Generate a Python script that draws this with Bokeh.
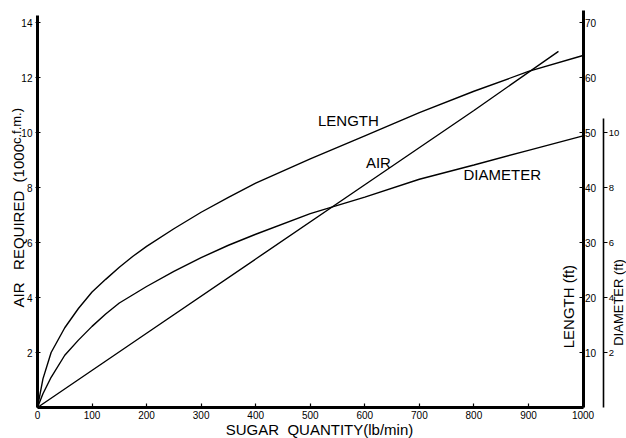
import math
from bokeh.plotting import figure
from bokeh.models import Range1d, LinearAxis, FixedTicker, Label
from bokeh.embed import file_html
from bokeh.resources import INLINE

# ---- data ----
sugar = [0, 10, 25, 50, 75, 100, 125, 150, 175, 200, 250, 300, 350, 400,
         500, 600, 700, 800, 900, 1000]
length_ft = [0, 5.2, 10, 14.5, 18, 21, 23.3, 25.5, 27.5, 29.3, 32.5, 35.5, 38.2, 40.8,
             45.2, 49.4, 53.6, 57.5, 61.1, 64]
diameter_ft = [0, 0.5, 1.1, 1.9, 2.45, 2.95, 3.4, 3.8, 4.1, 4.4, 4.95, 5.45, 5.9, 6.3,
               7.05, 7.65, 8.3, 8.82, 9.35, 9.88]
air_sugar = [0, 200, 400, 600, 800, 955]
air_kcfm = [0, 2.7, 5.4, 8.1, 10.8, 12.95]

x_ticks = [0, 100, 200, 300, 400, 500, 600, 700, 800, 900, 1000]
air_ticks = [2, 4, 6, 8, 10, 12, 14]
length_ticks = [10, 20, 30, 40, 50, 60, 70]
diam_ticks = [2, 4, 6, 8, 10]

X_START, X_END = -67.8, 1079.7
Y_START, Y_END = -1.127, 14.8
FONT = "Liberation Sans"
NB = "\u00a0"

p = figure(width=626, height=438,
           x_range=Range1d(X_START, X_END), y_range=Range1d(Y_START, Y_END),
           output_backend="svg", toolbar_location=None,
           x_axis_type=None, y_axis_type=None,
           min_border_left=0, min_border_right=0,
           min_border_top=0, min_border_bottom=0)
p.outline_line_color = None
p.background_fill_color = "white"
p.border_fill_color = "white"

p.extra_y_ranges = {"length": Range1d(Y_START * 5, Y_END * 5),
                    "diam": Range1d(Y_START, Y_END)}

def style_axis(ax, lw, tin, tout, fs, standoff):
    ax.axis_line_width = lw
    ax.axis_line_color = "black"
    ax.major_tick_in = tin
    ax.major_tick_out = tout
    ax.major_tick_line_width = 1.2
    ax.minor_tick_line_color = None
    ax.major_label_text_font = FONT
    ax.major_label_text_font_size = fs
    ax.major_label_text_color = "black"
    ax.major_label_standoff = standoff

xa = LinearAxis(fixed_location=0, ticker=FixedTicker(ticks=x_ticks), bounds=(0, 1000))
style_axis(xa, 3, 4, 0, "10px", 3)
p.add_layout(xa, "below")

ya = LinearAxis(fixed_location=0, ticker=FixedTicker(ticks=air_ticks), bounds=(0, 14.25))
style_axis(ya, 3, 3, 2, "10px", 3)
p.add_layout(ya, "left")

length_axis = LinearAxis(y_range_name="length", fixed_location=1000,
                         ticker=FixedTicker(ticks=length_ticks), bounds=(0, 72.2))
style_axis(length_axis, 3, 4, 0, "10px", 2)
p.add_layout(length_axis, "right")

diam_axis = LinearAxis(y_range_name="diam", fixed_location=1038,
                       ticker=FixedTicker(ticks=diam_ticks), bounds=(0, 10.5))
style_axis(diam_axis, 1.6, 0, 4, "9.5px", 1)
p.add_layout(diam_axis, "right")

# ---- curves ----
p.line(sugar, length_ft, y_range_name="length", line_color="black", line_width=1.4)
p.line(sugar, diameter_ft, y_range_name="diam", line_color="black", line_width=1.4)
p.line(air_sugar, air_kcfm, line_color="black", line_width=1.4)

# ---- labels ----
def lab(x, y, text, size="15px", **kw):
    p.add_layout(Label(x=x, y=y, text=text, text_font=FONT, text_font_size=size,
                       text_color="black", text_align=kw.pop("align", "center"),
                       text_baseline=kw.pop("baseline", "middle"), **kw))

lab(570, 10.44, "LENGTH")
lab(625, 8.91, "AIR")
lab(852, 8.47, "DIAMETER")

# ---- axis titles ----
lab(517, 0, "SUGAR" + NB + NB + "QUANTITY(lb/min)", y_offset=-21.5)
lab(0, 3.64, "AIR" + NB * 3 + "REQUIRED" + NB * 2 + "(1000",
    align="left", angle=math.pi / 2, x_offset=-19)
lab(0, 9.58, "c.f.m.)", size="13px", align="left", angle=math.pi / 2, x_offset=-21)
lab(1000, 3.67, "LENGTH" + NB + "(ft)", angle=math.pi / 2, x_offset=-15)
lab(1000, 3.82, "DIAMETER" + NB + "(ft)", size="13px", angle=math.pi / 2, x_offset=35.5)

open("out.html", "w").write(file_html(p, INLINE))
